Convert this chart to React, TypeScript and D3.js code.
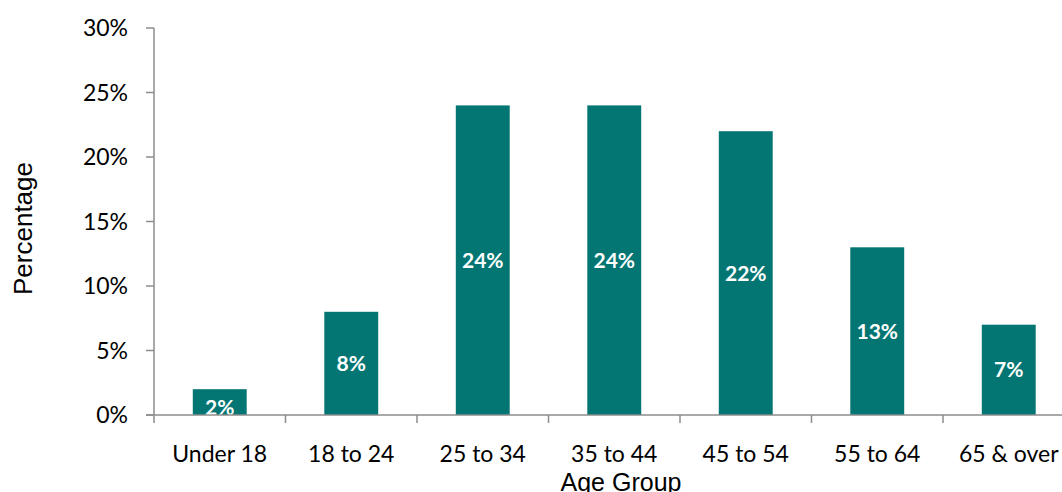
import React from "react";
import * as d3 from "d3";

const categories = ["Under 18", "18 to 24", "25 to 34", "35 to 44", "45 to 54", "55 to 64", "65 & over"];
const values = [2, 8, 24, 24, 22, 13, 7];
const yTicks = [0, 5, 10, 15, 20, 25, 30];

const W = 1062;
const H = 492;
const left = 154;
const step = 131.5;
const y0 = 415;
const yTop = 28;
const barColor = "#037673";
const axisColor = "#8c8c8c";
const tickFont = "Lato, 'Open Sans', sans-serif";
const labelH = 30;

export default function App() {
  const x = d3
    .scaleBand<string>()
    .domain(categories)
    .range([left, left + step * categories.length])
    .paddingInner(0.59)
    .paddingOuter(0.295);
  const y = d3.scaleLinear().domain([0, 30]).range([y0, yTop]);

  const boundaries = categories.map((_, i) => left + step * i).concat([left + step * categories.length]);

  return (
    <svg
      width={W}
      height={H}
      style={{ position: "fixed", left: 0, top: 0, background: "#fff" }}
    >
      {categories.map((c, i) => (
        <rect
          key={c}
          x={x(c)}
          y={y(values[i])}
          width={x.bandwidth()}
          height={y0 - y(values[i])}
          fill={barColor}
        />
      ))}
      <line x1={left} x2={left} y1={yTop} y2={y0} stroke={axisColor} strokeWidth={1.5} />
      {yTicks.map((t) => (
        <g key={t}>
          <line x1={left - 8} x2={left} y1={y(t)} y2={y(t)} stroke={axisColor} strokeWidth={1.5} />
          <text
            x={128}
            y={y(t)}
            dy="0.36em"
            textAnchor="end"
            fontFamily={tickFont}
            fontSize={23}
            fill="#000"
          >
            {t}%
          </text>
        </g>
      ))}
      {categories.map((c, i) => {
        const top = y(values[i]);
        const h = y0 - top;
        const center = h < labelH ? y0 - 7.5 : (top + y0) / 2;
        return (
          <text
            key={c}
            x={(x(c) as number) + x.bandwidth() / 2}
            y={center}
            dy="0.36em"
            textAnchor="middle"
            fontFamily={tickFont}
            fontWeight="bold"
            fontSize={21}
            fill="#fff"
          >
            {values[i]}%
          </text>
        );
      })}
      <line x1={left - 8} x2={W} y1={y0} y2={y0} stroke={axisColor} strokeWidth={1.5} />
      {boundaries.map((b, i) => (
        <line key={i} x1={b} x2={b} y1={y0} y2={y0 + 8} stroke={axisColor} strokeWidth={1.5} />
      ))}
      {categories.map((c) => (
        <text
          key={c}
          x={(x(c) as number) + x.bandwidth() / 2}
          y={462}
          textAnchor="middle"
          fontFamily={tickFont}
          fontSize={23}
          fill="#000"
        >
          {c}
        </text>
      ))}
      <text
        x={621}
        y={491}
        textAnchor="middle"
        fontFamily="'Liberation Sans', Arial, sans-serif"
        fontSize={25}
        fill="#000"
      >
        Age Group
      </text>
      <text
        transform={`translate(31.5, 228.5) rotate(-90)`}
        textAnchor="middle"
        fontFamily="'Liberation Sans', Arial, sans-serif"
        fontSize={26}
        fill="#000"
      >
        Percentage
      </text>
    </svg>
  );
}
